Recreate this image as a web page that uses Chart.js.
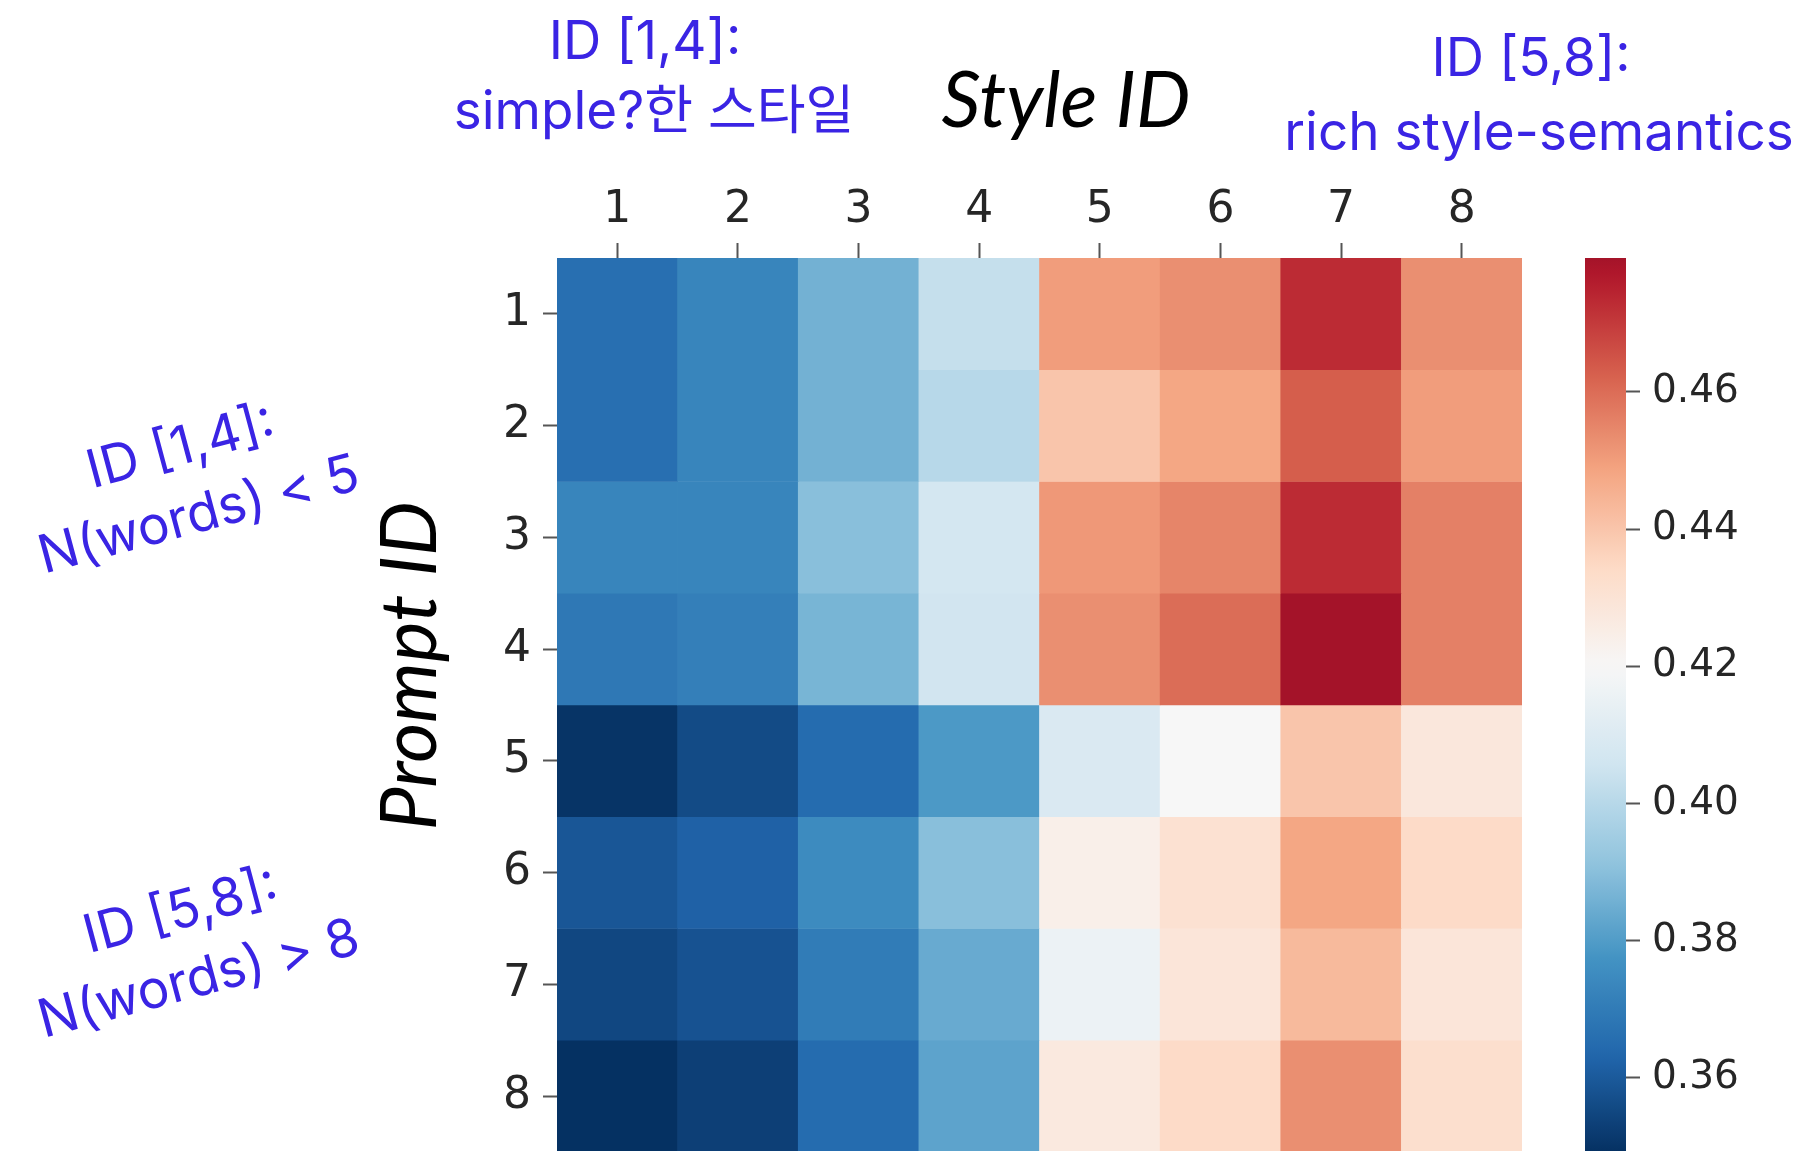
<!DOCTYPE html>
<html>
<head>
<meta charset="utf-8">
<title>Style ID vs Prompt ID</title>
<script src="https://cdn.jsdelivr.net/npm/chart.js@4.4.1/dist/chart.umd.min.js"></script>
<style>
  html, body { margin: 0; padding: 0; background: #fff; overflow: hidden; }
  #wrap { position: relative; width: 1815px; height: 1160px; }
  #heatBox { position: absolute; left: 0; top: 0; width: 1815px; height: 1160px; }
  #barBox { position: absolute; left: 1530px; top: 0; width: 285px; height: 1160px; }
</style>
</head>
<body>
<div id="wrap">
  <div id="heatBox"><canvas id="heatmap"></canvas></div>
  <div id="barBox"><canvas id="colorbar"></canvas></div>
</div>
<script>
// Columns = style ID, rows = prompt ID
const styleIds = ['1', '2', '3', '4', '5', '6', '7', '8'];
const promptIds = ['1', '2', '3', '4', '5', '6', '7', '8'];

const row1 = [0.366, 0.373, 0.386, 0.403, 0.450, 0.453, 0.473, 0.453];
const row2 = [0.366, 0.373, 0.386, 0.400, 0.440, 0.448, 0.463, 0.450];
const row3 = [0.373, 0.373, 0.390, 0.407, 0.451, 0.455, 0.473, 0.456];
const row4 = [0.369, 0.371, 0.387, 0.406, 0.453, 0.460, 0.4795, 0.456];
const row5 = [0.350, 0.356, 0.365, 0.379, 0.409, 0.420, 0.440, 0.428];
const row6 = [0.359, 0.362, 0.375, 0.390, 0.424, 0.431, 0.448, 0.434];
const row7 = [0.355, 0.358, 0.370, 0.384, 0.416, 0.429, 0.443, 0.429];
const row8 = [0.3492, 0.353, 0.365, 0.382, 0.427, 0.434, 0.453, 0.432];
const scores = [row1, row2, row3, row4, row5, row6, row7, row8];

const colorbarTicks = [0.36, 0.38, 0.40, 0.42, 0.44, 0.46];

// Blue notes: each line with its own anchor (centre)
const topNotes = [
    { text: 'ID [1,4]:', x: 645, y: 43 },
    { text: 'simple?한 스타일', x: 654, y: 113 },
    { text: 'ID [5,8]:', x: 1531, y: 60 },
    { text: 'rich style-semantics', x: 1539, y: 134 }
];
const sideNotes = [
    { lines: ['ID [1,4]:', 'N(words) < 5'], x: 190, y: 482 },
    { lines: ['ID [5,8]:', 'N(words) > 8'], x: 190, y: 946 }
];

// RdBu_r, centred on 0.42 like the original seaborn heatmap
const rdbuStops = ['#053061', '#2166ac', '#4393c3', '#92c5de', '#d1e5f0', '#f7f7f7',
                   '#fddbc7', '#f4a582', '#d6604d', '#b2182b', '#67001f'];
const cmapCenter = 0.42;
const cmapHalfRange = 0.071;

function hexToRgb(h) {
    return [1, 3, 5].map(i => parseInt(h.substr(i, 2), 16));
}

function colorFor(v) {
    let t = 0.5 + (v - cmapCenter) / (2 * cmapHalfRange);
    t = Math.max(0, Math.min(1, t));
    const pos = t * 10;
    const i = Math.min(9, Math.floor(pos));
    const f = pos - i;
    const a = hexToRgb(rdbuStops[i]);
    const b = hexToRgb(rdbuStops[i + 1]);
    const c = a.map((x, k) => Math.round(x + (b[k] - x) * f));
    return `rgb(${c[0]}, ${c[1]}, ${c[2]})`;
}

const allScores = scores.flat();
const cbMin = Math.min(...allScores);
const cbMax = Math.max(...allScores);

const axisFont = { family: "'DejaVu Sans', sans-serif", size: 44 };
const cbFont = { family: "'DejaVu Sans', sans-serif", size: 39 };
const tickColor = '#262626';

// drop the label overhang padding so the cells run to the bottom edge
function noOverhang(scale) {
    scale.paddingTop = 0;
    scale.paddingBottom = 0;
}

// Axis titles and the blue notes around the heatmap
const figureText = {
    id: 'figureText',
    afterDraw(chart) {
        const c = chart.ctx;
        c.save();
        c.fillStyle = '#000';
        c.textAlign = 'center';
        c.textBaseline = 'middle';
        c.font = "italic 77px Lato, 'Open Sans', sans-serif";
        c.fillText('Style ID', 1066, 102);
        c.save();
        c.translate(411, 666);
        c.rotate(-Math.PI / 2);
        c.fillText('Prompt ID', 0, 0);
        c.restore();

        c.fillStyle = '#3a24e4';
        c.font = "53px Inter, 'Noto Sans CJK KR', sans-serif";
        topNotes.forEach(n => c.fillText(n.text, n.x, n.y));
        sideNotes.forEach(n => {
            c.save();
            c.translate(n.x, n.y);
            c.rotate(-15 * Math.PI / 180);
            n.lines.forEach((line, i) => {
                c.fillText(line, 0, (i - 0.5) * 70);
            });
            c.restore();
        });
        c.restore();
    }
};

new Chart(document.getElementById('heatmap'), {
    type: 'bar',
    data: {
        labels: styleIds,
        datasets: promptIds.map((p, r) => ({
            label: 'Prompt ' + p,
            data: styleIds.map(() => [r, r + 1]),
            backgroundColor: scores[r].map(colorFor),
            borderWidth: 0,
            barPercentage: 1,
            categoryPercentage: 1,
            grouped: false
        }))
    },
    options: {
        responsive: true,
        maintainAspectRatio: false,
        animation: false,
        layout: { padding: { left: 0, top: 0, right: 293, bottom: 8 } },
        plugins: {
            legend: { display: false },
            tooltip: { enabled: false }
        },
        scales: {
            x: {
                position: 'top',
                grid: { offset: false, drawOnChartArea: false, tickLength: 15, tickWidth: 2, tickColor: '#555' },
                border: { display: false },
                ticks: { font: axisFont, color: tickColor, padding: 6, maxRotation: 0, autoSkip: false },
                afterFit: scale => { scale.height = 258; }
            },
            y: {
                type: 'linear',
                min: 0,
                max: promptIds.length,
                reverse: true,
                afterBuildTicks: axis => {
                    axis.ticks = promptIds.map((_, i) => ({ value: i + 0.5 }));
                },
                grid: { drawOnChartArea: false, tickLength: 14, tickWidth: 2, tickColor: '#555' },
                border: { display: false },
                ticks: {
                    font: axisFont, color: tickColor, padding: 12, autoSkip: false,
                    callback: v => promptIds[Math.floor(v)]
                },
                afterFit: scale => { scale.width = 557; noOverhang(scale); }
            }
        }
    },
    plugins: [figureText]
});

new Chart(document.getElementById('colorbar'), {
    type: 'bar',
    data: {
        labels: ['score'],
        datasets: [{
            data: [[cbMin, cbMax]],
            backgroundColor: ctx => {
                const chart = ctx.chart;
                if (!chart.chartArea) return colorFor(cbMin);
                const y = chart.scales.y;
                const g = chart.ctx.createLinearGradient(0, y.getPixelForValue(cbMin), 0, y.getPixelForValue(cbMax));
                for (let i = 0; i <= 60; i++) {
                    g.addColorStop(i / 60, colorFor(cbMin + (cbMax - cbMin) * i / 60));
                }
                return g;
            },
            borderWidth: 0,
            barPercentage: 1,
            categoryPercentage: 1
        }]
    },
    options: {
        responsive: true,
        maintainAspectRatio: false,
        animation: false,
        layout: { padding: { left: 55, top: 258, right: 0, bottom: 8 } },
        plugins: {
            legend: { display: false },
            tooltip: { enabled: false }
        },
        scales: {
            x: { display: false },
            y: {
                position: 'right',
                min: cbMin,
                max: cbMax,
                afterBuildTicks: axis => {
                    axis.ticks = colorbarTicks.map(v => ({ value: v }));
                },
                grid: { drawOnChartArea: false, tickLength: 14, tickWidth: 2, tickColor: '#555' },
                border: { display: false },
                ticks: {
                    font: cbFont, color: tickColor, padding: 12, autoSkip: false,
                    callback: v => v.toFixed(2)
                },
                afterFit: scale => { scale.width = 189; noOverhang(scale); }
            }
        }
    }
});
</script>
</body>
</html>
